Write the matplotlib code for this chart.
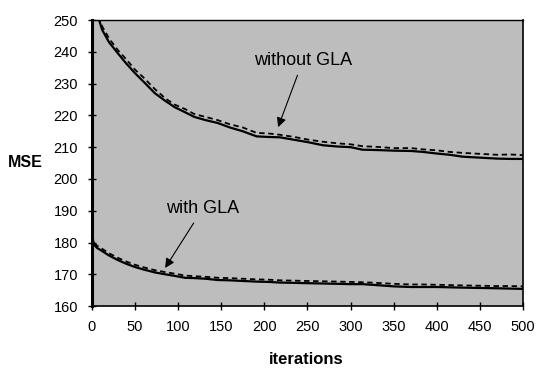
import matplotlib.pyplot as plt

# iterations at which the curves were read
iters = [0, 1, 3, 6, 12, 20, 30, 40, 50, 60, 73, 85, 96, 108, 119, 132, 146, 160, 175, 191,
         205, 218, 235, 250, 268, 285, 300, 314, 330, 350, 370, 384, 400, 415, 430, 450,
         470, 485, 500]

# without GLA, solid / dashed
no_gla = [262, 259, 256, 252, 246.9, 243.0, 239.6, 236.3, 233.3, 230.6, 227.0, 224.6, 222.6,
          221.0, 219.5, 218.5, 217.6, 216.2, 215.0, 213.4, 213.2, 213.1, 212.3, 211.6,
          210.6, 210.2, 210.0, 209.2, 209.1, 208.9, 208.8, 208.5, 208.0, 207.6, 207.0,
          206.7, 206.4, 206.3, 206.3]
no_gla_dash = [262, 259, 256, 253, 248.0, 244.2, 240.6, 237.6, 234.4, 231.9, 228.3, 225.4, 223.4,
               222.0, 220.4, 219.5, 218.5, 217.2, 216.2, 214.5, 214.3, 213.9, 213.2, 212.4,
               211.7, 211.2, 210.9, 210.3, 210.1, 209.7, 209.7, 209.3, 209.0, 208.5, 208.2,
               207.9, 207.6, 207.7, 207.5]

# with GLA, solid / dashed
gla = [228, 181.0, 179.2, 178.3, 177.3, 175.9, 174.5, 173.3, 172.3, 171.5, 170.6, 170.0,
       169.5, 168.9, 168.8, 168.6, 168.2, 168.1, 167.9, 167.7, 167.6, 167.4, 167.3,
       167.2, 167.1, 167.0, 166.9, 166.9, 166.6, 166.2, 166.0, 166.0, 166.0, 165.9,
       165.8, 165.7, 165.6, 165.5, 165.4]
gla_dash = [228, 181.6, 179.8, 179.0, 178.0, 176.6, 175.2, 174.0, 173.0, 172.2, 171.3, 170.7,
            170.2, 169.6, 169.4, 169.2, 168.9, 168.8, 168.6, 168.4, 168.3, 168.1, 168.0,
            167.9, 167.8, 167.7, 167.6, 167.5, 167.3, 167.0, 166.8, 166.8, 166.7, 166.6,
            166.5, 166.4, 166.3, 166.3, 166.2]

xticks = list(range(0, 501, 50))
yticks = list(range(160, 251, 10))

fig = plt.figure(figsize=(5.37, 3.71), dpi=100)
ax = fig.add_axes([0.171, 0.175, 0.803, 0.771])
ax.set_facecolor('#bdbdbd')

ax.plot(iters, no_gla, color='black', lw=1.6, clip_on=True)
ax.plot(iters, no_gla_dash, color='black', lw=1.3, ls=(0, (3, 2)), clip_on=True)
ax.plot(iters, gla, color='black', lw=1.6, clip_on=True)
ax.plot(iters, gla_dash, color='black', lw=1.3, ls=(0, (3, 2)), clip_on=True)

ax.set_xlim(0, 500)
ax.set_ylim(160, 250)
ax.set_xticks(xticks)
ax.set_yticks(yticks)
ax.tick_params(direction='inout', length=6, width=1, labelsize=10.5, pad=7)
for lab in ax.get_xticklabels() + ax.get_yticklabels():
    lab.set_fontfamily('Liberation Sans')

ax.spines['left'].set_linewidth(2.2)
ax.spines['bottom'].set_linewidth(1.2)
ax.spines['top'].set_linewidth(1.0)
ax.spines['top'].set_linestyle((0, (1, 1)))
ax.spines['right'].set_linewidth(1.2)

ax.annotate('without GLA', xy=(216, 216.3), xytext=(245, 237.4),
            ha='center', va='center', fontsize=13, family='Liberation Sans',
            arrowprops=dict(arrowstyle='-|>', color='black', lw=0.8,
                            mutation_scale=14, shrinkA=3, shrinkB=0))
ax.annotate('with GLA', xy=(85, 172), xytext=(129, 190.8),
            ha='center', va='center', fontsize=13, family='Liberation Sans',
            arrowprops=dict(arrowstyle='-|>', color='black', lw=0.8,
                            mutation_scale=14, shrinkA=3, shrinkB=0))

fig.text(0.047, 0.563, 'MSE', fontsize=11.5, fontweight='bold',
         family='Liberation Sans', ha='center', va='center')
fig.text(0.571, 0.03, 'iterations', fontsize=12, fontweight='bold',
         family='Liberation Sans', ha='center', va='center')

fig.savefig('out.png', dpi=100)
